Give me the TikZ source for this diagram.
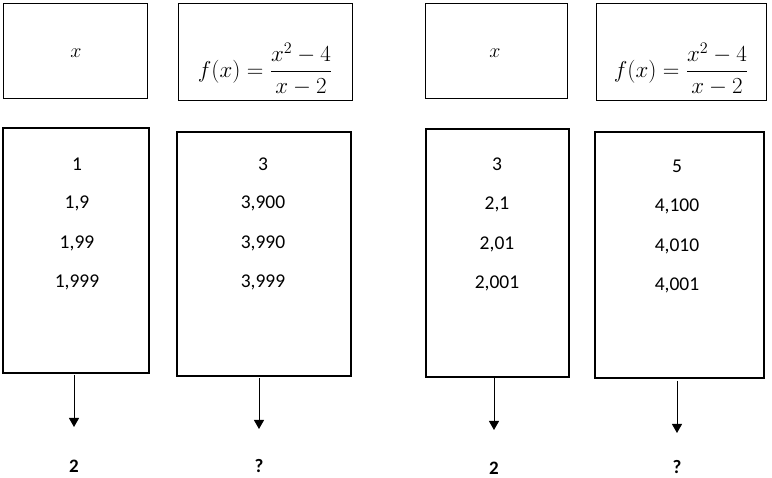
\documentclass[tikz,border=0pt]{standalone}
\usepackage{fix-cm}
\usepackage{fontspec}
\setmainfont{Carlito}
\usetikzlibrary{arrows.meta}
\begin{document}
\begin{tikzpicture}[x=1pt,y=-1pt,
  topbox/.style={draw=black,line width=1pt},
  valbox/.style={draw=black,line width=2pt},
  val/.style={font=\fontsize{19.5}{22}\selectfont,inner sep=0pt},
  res/.style={font=\fontsize{19}{22}\selectfont\bfseries,inner sep=0pt},
  fx/.style={font=\fontsize{23}{26}\selectfont,inner sep=0pt},
  xv/.style={font=\fontsize{20}{24}\selectfont,inner sep=0pt},
  arr/.style={line width=1pt,-{Triangle[length=9pt,width=10pt]}}]
\useasboundingbox (0,0) rectangle (772,478);
% top boxes
\draw[topbox] (3,4) rectangle (147,99);
\draw[topbox] (178,4) rectangle (352,101);
\draw[topbox] (425,4) rectangle (567,99);
\draw[topbox] (596,4) rectangle (766,101);
\node[xv] (xa) at (76,53) {$x$};
\node[fx] (fb) at (265,69) {$\displaystyle f(x)=\frac{x^2-4}{x-2}$};
\node[xv] (xc) at (495,53) {$x$};
\node[fx] (fd) at (681,69) {$\displaystyle f(x)=\frac{x^2-4}{x-2}$};
% value boxes
\draw[valbox] (3,128) rectangle (149,373);
\draw[valbox] (177,132) rectangle (351,376);
\draw[valbox] (426,129) rectangle (569,377);
\draw[valbox] (595,132) rectangle (764,378);
\coordinate (ea) at (74,375);
\coordinate (fa) at (259,378);
\coordinate (ga) at (494,378);
\coordinate (ha) at (677,381);
% values
\node[val] (e1) at (77,164) {1};
\node[val] (e2) at (77,203) {1,9};
\node[val] (e3) at (77,243) {1,99};
\node[val] (e4) at (77,282) {1,999};
\node[val] (f1) at (263,164) {3};
\node[val] (f2) at (263,203) {3,900};
\node[val] (f3) at (263,243) {3,990};
\node[val] (f4) at (263,282) {3,999};
\node[val] (g1) at (497,164) {3};
\node[val] (g2) at (497,204) {2,1};
\node[val] (g3) at (497,244) {2,01};
\node[val] (g4) at (497,283) {2,001};
\node[val] (h1) at (677,166) {5};
\node[val] (h2) at (677,206) {4,100};
\node[val] (h3) at (677,246) {4,010};
\node[val] (h4) at (677,285) {4,001};
% results
\node[res] (r1) at (74,466) {2};
\node[res] (r2) at (259,466) {?};
\node[res] (r3) at (494,468) {2};
\node[res] (r4) at (677,467) {?};
\coordinate (t1) at (74,427);
\coordinate (t2) at (259,429);
\coordinate (t3) at (494,430);
\coordinate (t4) at (677,433);
\draw[arr] (ea) -- (t1);
\draw[arr] (fa) -- (t2);
\draw[arr] (ga) -- (t3);
\draw[arr] (ha) -- (t4);
\end{tikzpicture}
\end{document}
